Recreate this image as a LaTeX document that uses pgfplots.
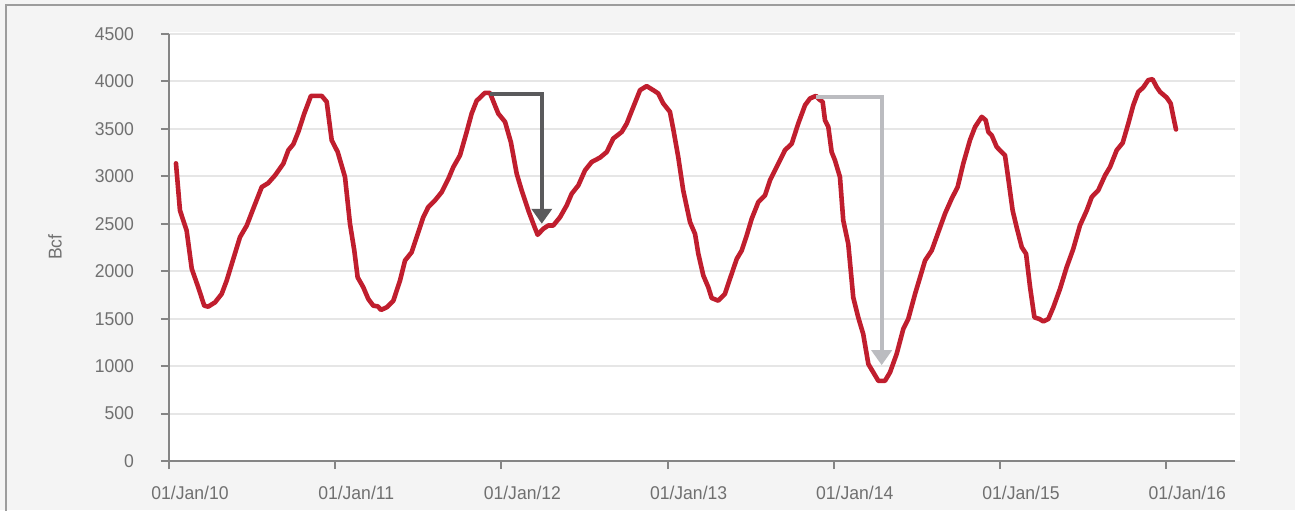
\documentclass[border=0pt]{standalone}
\usepackage{fontspec}
\setmainfont{Liberation Sans}[FakeStretch=0.95]
\usepackage{pgfplots}
\pgfplotsset{compat=1.18}
\usetikzlibrary{arrows.meta}
\definecolor{bgc}{HTML}{F4F4F4}
\definecolor{framec}{HTML}{9C9C9C}
\definecolor{axisc}{HTML}{858585}
\definecolor{gridc}{HTML}{E6E6E6}
\definecolor{labc}{HTML}{707070}
\definecolor{redc}{HTML}{C01E2E}
\definecolor{darkarr}{HTML}{5A5A5C}
\definecolor{lightarr}{HTML}{BBBCC0}
\begin{document}
\begin{tikzpicture}[x=1pt,y=1pt]
\useasboundingbox (-84.5,-24.5) rectangle (563,230.5);
\fill[bgc] (-84.5,-24.5) rectangle (563,230.5);
\draw[framec, line width=0.8pt] (-81.5,-30) -- (-81.5,228) -- (570,228);
\fill[white] (0,0) rectangle (535.5,214.5);
\begin{axis}[
  at={(0,0)}, anchor=south west,
  scale only axis, width=533pt, height=213.5pt,
  xmin=0, xmax=6.414, ymin=0, ymax=4500,
  axis lines*=left,
  axis line style={draw=axisc, line width=1pt},
  xtick={0,1,2,3,4,5,6},
  xticklabels={01/Jan/10,01/Jan/11,01/Jan/12,01/Jan/13,01/Jan/14,01/Jan/15,01/Jan/16},
  ytick={0,500,...,4500},
  tick align=outside, major tick length=4pt,
  tick style={draw=axisc, line width=1pt},
  ymajorgrids, grid style={draw=gridc, line width=1pt},
  ticklabel style={font=\fontsize{9.25}{11}\selectfont, text=labc},
  /pgf/number format/assume math mode=true,
  /pgf/number format/1000 sep={},
  yticklabel style={xshift=-10pt},
  xticklabel style={yshift=-5pt, xshift=10.5pt},
  ylabel={Bcf},
  ylabel style={at={(axis description cs:-0.107,0.501)}, anchor=center, font=\fontsize{9.25}{11}\selectfont, text=labc},
]
\addplot[draw=redc, line width=2.3pt, line join=round, line cap=round] coordinates {
(0.042,3137) (0.066,2641) (0.106,2430) (0.137,2025) (0.176,1831) (0.212,1637) (0.236,1627) (0.277,1672) (0.317,1761) (0.347,1901) (0.387,2130) (0.427,2359) (0.468,2482) (0.507,2659) (0.558,2887) (0.597,2929) (0.638,3010) (0.688,3134) (0.718,3275) (0.748,3338) (0.778,3468) (0.814,3662) (0.854,3848) (0.919,3848) (0.949,3785) (0.979,3380) (1.015,3257) (1.059,2993) (1.089,2500) (1.115,2218) (1.135,1936) (1.169,1831) (1.199,1708) (1.229,1637) (1.256,1630) (1.276,1592) (1.310,1620) (1.350,1690) (1.390,1901) (1.420,2113) (1.460,2200) (1.490,2359) (1.530,2570) (1.560,2676) (1.600,2746) (1.641,2834) (1.681,2975) (1.711,3098) (1.751,3222) (1.791,3468) (1.821,3662) (1.851,3796) (1.901,3880) (1.931,3880) (1.981,3662) (2.022,3574) (2.057,3360) (2.092,3028) (2.122,2852) (2.162,2641) (2.192,2500) (2.218,2384) (2.252,2447) (2.282,2482) (2.312,2482) (2.353,2570) (2.393,2694) (2.423,2817) (2.463,2905) (2.503,3063) (2.543,3151) (2.593,3197) (2.634,3257) (2.673,3398) (2.724,3468) (2.754,3556) (2.794,3733) (2.834,3908) (2.874,3951) (2.914,3908) (2.944,3873) (2.974,3768) (3.014,3680) (3.034,3500) (3.064,3204) (3.094,2852) (3.135,2517) (3.165,2394) (3.185,2183) (3.215,1954) (3.245,1831) (3.265,1718) (3.305,1690) (3.345,1761) (3.375,1919) (3.416,2130) (3.446,2218) (3.476,2377) (3.506,2553) (3.546,2729) (3.586,2799) (3.616,2958) (3.656,3098) (3.706,3275) (3.747,3345) (3.786,3556) (3.827,3750) (3.857,3821) (3.893,3848) (3.913,3810) (3.933,3785) (3.947,3592) (3.967,3521) (3.987,3257) (4.007,3169) (4.037,2993) (4.057,2535) (4.087,2289) (4.117,1725) (4.147,1514) (4.177,1338) (4.208,1021) (4.238,933) (4.268,845) (4.308,845) (4.338,933) (4.378,1127) (4.418,1391) (4.448,1497) (4.489,1761) (4.519,1936) (4.549,2113) (4.589,2218) (4.629,2412) (4.669,2606) (4.709,2764) (4.745,2887) (4.779,3134) (4.819,3380) (4.850,3521) (4.890,3627) (4.914,3592) (4.930,3468) (4.950,3433) (4.980,3310) (5.030,3222) (5.050,2975) (5.076,2641) (5.100,2465) (5.131,2253) (5.157,2183) (5.181,1831) (5.207,1514) (5.237,1497) (5.261,1471) (5.291,1497) (5.321,1620) (5.361,1814) (5.401,2042) (5.441,2236) (5.481,2482) (5.522,2641) (5.552,2782) (5.591,2852) (5.632,3010) (5.662,3098) (5.702,3275) (5.738,3352) (5.772,3556) (5.802,3750) (5.832,3890) (5.862,3937) (5.892,4014) (5.918,4024) (5.942,3943) (5.963,3890) (6.003,3830) (6.027,3768) (6.043,3627) (6.059,3494)
};
\addplot[draw=darkarr, line width=2.1pt, -{Triangle[width=10pt,length=7.5pt]}] coordinates {(1.931,3870) (2.243,3870) (2.243,2500)};
\addplot[draw=lightarr, line width=2.1pt, -{Triangle[width=10pt,length=7.5pt]}] coordinates {(3.893,3840) (4.288,3840) (4.288,1010)};
\end{axis}
\end{tikzpicture}
\end{document}
